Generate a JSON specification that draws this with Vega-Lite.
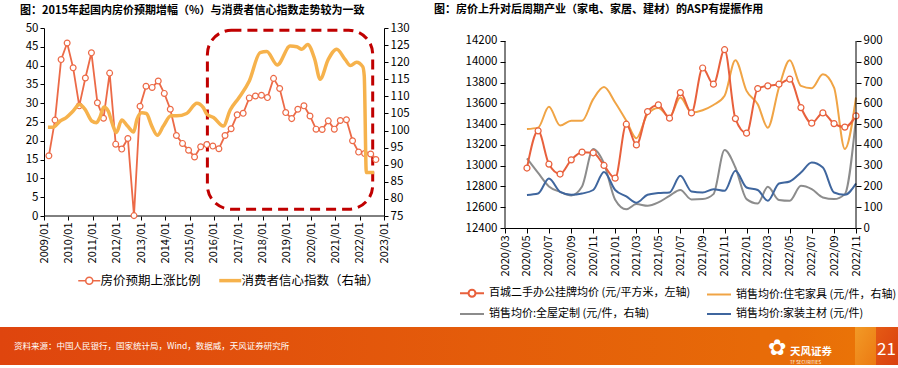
{
  "$schema": "https://vega.github.io/schema/vega-lite/v6.json",
  "background": "white",
  "padding": {"left": 0, "top": 4, "right": 0, "bottom": 0},
  "config": {
    "font": "Noto Sans CJK SC",
    "view": {"stroke": null},
    "axis": {"labelFont": "Noto Sans CJK SC", "labelFontSize": 11.5, "labelColor": "#000000", "domainColor": "#000000", "tickColor": "#000000", "tickSize": 4, "grid": false, "labelPadding": 2, "domainWidth": 1, "tickWidth": 1, "labelOverlap": false},
    "title": {"font": "Noto Sans CJK SC", "fontWeight": "bold", "fontSize": 11, "color": "#000000", "anchor": "start", "frame": "group"},
    "legend": {"labelFont": "Noto Sans CJK SC", "labelColor": "#000000", "padding": 0}
  },
  "datasets": {
    "house": [
      {"date": "2009-03-15", "v": 16.0}, {"date": "2009-06-15", "v": 25.5}, {"date": "2009-09-15", "v": 41.6}, {"date": "2009-12-15", "v": 46.0},
      {"date": "2010-03-15", "v": 39.4}, {"date": "2010-06-15", "v": 29.3}, {"date": "2010-09-15", "v": 36.7}, {"date": "2010-12-15", "v": 43.4},
      {"date": "2011-03-15", "v": 30.1}, {"date": "2011-06-15", "v": 26.0}, {"date": "2011-09-15", "v": 38.0}, {"date": "2011-12-15", "v": 19.1},
      {"date": "2012-03-15", "v": 17.8}, {"date": "2012-06-15", "v": 20.6}, {"date": "2012-09-15", "v": 0.1}, {"date": "2012-12-15", "v": 29.2},
      {"date": "2013-03-15", "v": 34.5}, {"date": "2013-06-15", "v": 34.2}, {"date": "2013-09-15", "v": 35.9}, {"date": "2013-12-15", "v": 32.6},
      {"date": "2014-03-15", "v": 28.4}, {"date": "2014-06-15", "v": 21.4}, {"date": "2014-09-15", "v": 19.3}, {"date": "2014-12-15", "v": 17.5},
      {"date": "2015-03-15", "v": 15.7}, {"date": "2015-06-15", "v": 18.4}, {"date": "2015-09-15", "v": 19.0}, {"date": "2015-12-15", "v": 18.6},
      {"date": "2016-03-15", "v": 17.9}, {"date": "2016-06-15", "v": 21.4}, {"date": "2016-09-15", "v": 23.2}, {"date": "2016-12-15", "v": 26.9},
      {"date": "2017-03-15", "v": 27.3}, {"date": "2017-06-15", "v": 31.4}, {"date": "2017-09-15", "v": 31.9}, {"date": "2017-12-15", "v": 32.1},
      {"date": "2018-03-15", "v": 31.5}, {"date": "2018-06-15", "v": 36.6}, {"date": "2018-09-15", "v": 33.9}, {"date": "2018-12-15", "v": 27.5},
      {"date": "2019-03-15", "v": 25.9}, {"date": "2019-06-15", "v": 28.4}, {"date": "2019-09-15", "v": 29.3}, {"date": "2019-12-15", "v": 26.6},
      {"date": "2020-03-15", "v": 23.1}, {"date": "2020-06-15", "v": 23.0}, {"date": "2020-09-15", "v": 25.3}, {"date": "2020-12-15", "v": 23.1},
      {"date": "2021-03-15", "v": 25.4}, {"date": "2021-06-15", "v": 25.6}, {"date": "2021-09-15", "v": 20.0}, {"date": "2021-12-15", "v": 17.0},
      {"date": "2022-03-15", "v": 16.6}, {"date": "2022-06-15", "v": 16.5}, {"date": "2022-09-01", "v": 15.0}
    ],
    "cci": [
      {"date": "2009-03-01", "v": 101.0}, {"date": "2009-05-15", "v": 101.0}, {"date": "2009-09-01", "v": 102.8}, {"date": "2009-12-01", "v": 103.8},
      {"date": "2010-03-15", "v": 105.7}, {"date": "2010-06-15", "v": 107.6}, {"date": "2010-09-10", "v": 106.2}, {"date": "2010-12-20", "v": 102.8},
      {"date": "2011-03-01", "v": 102.3}, {"date": "2011-04-20", "v": 103.8}, {"date": "2011-06-20", "v": 106.9}, {"date": "2011-08-25", "v": 105.7},
      {"date": "2011-10-20", "v": 102.3}, {"date": "2011-12-25", "v": 99.4}, {"date": "2012-03-15", "v": 103.1}, {"date": "2012-06-10", "v": 101.3},
      {"date": "2012-09-10", "v": 99.6}, {"date": "2012-10-30", "v": 103.3}, {"date": "2013-01-10", "v": 105.2}, {"date": "2013-03-20", "v": 105.0},
      {"date": "2013-06-10", "v": 101.3}, {"date": "2013-09-01", "v": 98.6}, {"date": "2013-12-01", "v": 101.3}, {"date": "2014-03-25", "v": 104.3},
      {"date": "2014-06-20", "v": 104.3}, {"date": "2014-11-15", "v": 105.0}, {"date": "2015-04-20", "v": 108.0}, {"date": "2015-07-25", "v": 106.7},
      {"date": "2015-09-15", "v": 104.8}, {"date": "2015-12-25", "v": 103.8}, {"date": "2016-05-20", "v": 101.3}, {"date": "2016-09-01", "v": 106.0},
      {"date": "2017-01-10", "v": 109.6}, {"date": "2017-06-15", "v": 114.5}, {"date": "2017-11-25", "v": 122.8}, {"date": "2018-03-05", "v": 123.1},
      {"date": "2018-08-10", "v": 119.2}, {"date": "2019-02-20", "v": 124.7}, {"date": "2019-05-30", "v": 124.5}, {"date": "2019-08-15", "v": 123.8},
      {"date": "2019-11-10", "v": 125.2}, {"date": "2020-02-25", "v": 120.8}, {"date": "2020-05-15", "v": 115.0}, {"date": "2020-09-15", "v": 120.8},
      {"date": "2021-01-20", "v": 123.8}, {"date": "2021-05-25", "v": 120.8}, {"date": "2021-08-15", "v": 119.0}, {"date": "2021-11-15", "v": 120.0},
      {"date": "2022-02-15", "v": 118.7}, {"date": "2022-03-10", "v": 116.0}, {"date": "2022-04-10", "v": 87.7}, {"date": "2022-08-05", "v": 87.7}
    ],
    "box": [
      {"start": "2015-09-24", "end": "2022-07-15", "low": 1.8, "high": 49.4}
    ],
    "office": [
      {"date": "2020-05-01", "v": 12977}, {"date": "2020-06-01", "v": 13335}, {"date": "2020-07-01", "v": 13015}, {"date": "2020-08-01", "v": 12919},
      {"date": "2020-09-01", "v": 13056}, {"date": "2020-10-01", "v": 13130}, {"date": "2020-11-01", "v": 13124}, {"date": "2020-12-01", "v": 13002},
      {"date": "2021-01-01", "v": 12880}, {"date": "2021-02-01", "v": 13399}, {"date": "2021-03-01", "v": 13200}, {"date": "2021-04-01", "v": 13521},
      {"date": "2021-05-01", "v": 13585}, {"date": "2021-06-01", "v": 13457}, {"date": "2021-07-01", "v": 13703}, {"date": "2021-08-01", "v": 13508},
      {"date": "2021-09-01", "v": 13940}, {"date": "2021-10-01", "v": 13784}, {"date": "2021-11-01", "v": 14116}, {"date": "2021-12-01", "v": 13453},
      {"date": "2022-01-01", "v": 13313}, {"date": "2022-02-01", "v": 13742}, {"date": "2022-03-01", "v": 13768}, {"date": "2022-04-01", "v": 13784},
      {"date": "2022-05-01", "v": 13832}, {"date": "2022-06-01", "v": 13559}, {"date": "2022-07-01", "v": 13409}, {"date": "2022-08-01", "v": 13508},
      {"date": "2022-09-01", "v": 13405}, {"date": "2022-10-01", "v": 13371}, {"date": "2022-11-01", "v": 13479}
    ],
    "asp": [
      {"date": "2020-05-01", "s": "销售均价:住宅家具 (元/件，右轴)", "v": 476}, {"date": "2020-06-01", "s": "销售均价:住宅家具 (元/件，右轴)", "v": 483},
      {"date": "2020-07-01", "s": "销售均价:住宅家具 (元/件，右轴)", "v": 583}, {"date": "2020-08-01", "s": "销售均价:住宅家具 (元/件，右轴)", "v": 493},
      {"date": "2020-09-01", "s": "销售均价:住宅家具 (元/件，右轴)", "v": 516}, {"date": "2020-10-01", "s": "销售均价:住宅家具 (元/件，右轴)", "v": 516},
      {"date": "2020-11-01", "s": "销售均价:住宅家具 (元/件，右轴)", "v": 620}, {"date": "2020-12-01", "s": "销售均价:住宅家具 (元/件，右轴)", "v": 678},
      {"date": "2021-01-01", "s": "销售均价:住宅家具 (元/件，右轴)", "v": 604}, {"date": "2021-02-01", "s": "销售均价:住宅家具 (元/件，右轴)", "v": 516},
      {"date": "2021-03-01", "s": "销售均价:住宅家具 (元/件，右轴)", "v": 432}, {"date": "2021-04-01", "s": "销售均价:住宅家具 (元/件，右轴)", "v": 548},
      {"date": "2021-05-01", "s": "销售均价:住宅家具 (元/件，右轴)", "v": 577}, {"date": "2021-06-01", "s": "销售均价:住宅家具 (元/件，右轴)", "v": 535},
      {"date": "2021-07-01", "s": "销售均价:住宅家具 (元/件，右轴)", "v": 628}, {"date": "2021-08-01", "s": "销售均价:住宅家具 (元/件，右轴)", "v": 556},
      {"date": "2021-09-01", "s": "销售均价:住宅家具 (元/件，右轴)", "v": 567}, {"date": "2021-10-01", "s": "销售均价:住宅家具 (元/件，右轴)", "v": 592},
      {"date": "2021-11-01", "s": "销售均价:住宅家具 (元/件，右轴)", "v": 636}, {"date": "2021-12-01", "s": "销售均价:住宅家具 (元/件，右轴)", "v": 807},
      {"date": "2022-01-01", "s": "销售均价:住宅家具 (元/件，右轴)", "v": 660}, {"date": "2022-02-01", "s": "销售均价:住宅家具 (元/件，右轴)", "v": 596},
      {"date": "2022-03-01", "s": "销售均价:住宅家具 (元/件，右轴)", "v": 483}, {"date": "2022-04-01", "s": "销售均价:住宅家具 (元/件，右轴)", "v": 676},
      {"date": "2022-05-01", "s": "销售均价:住宅家具 (元/件，右轴)", "v": 807}, {"date": "2022-06-01", "s": "销售均价:住宅家具 (元/件，右轴)", "v": 684},
      {"date": "2022-07-01", "s": "销售均价:住宅家具 (元/件，右轴)", "v": 673}, {"date": "2022-08-01", "s": "销售均价:住宅家具 (元/件，右轴)", "v": 740},
      {"date": "2022-09-01", "s": "销售均价:住宅家具 (元/件，右轴)", "v": 676}, {"date": "2022-10-01", "s": "销售均价:住宅家具 (元/件，右轴)", "v": 380},
      {"date": "2022-11-01", "s": "销售均价:住宅家具 (元/件，右轴)", "v": 628},
      {"date": "2020-05-01", "s": "销售均价:全屋定制 (元/件，右轴)", "v": 335}, {"date": "2020-06-01", "s": "销售均价:全屋定制 (元/件，右轴)", "v": 265},
      {"date": "2020-07-01", "s": "销售均价:全屋定制 (元/件，右轴)", "v": 200}, {"date": "2020-08-01", "s": "销售均价:全屋定制 (元/件，右轴)", "v": 174},
      {"date": "2020-09-01", "s": "销售均价:全屋定制 (元/件，右轴)", "v": 157}, {"date": "2020-10-01", "s": "销售均价:全屋定制 (元/件，右轴)", "v": 200},
      {"date": "2020-11-01", "s": "销售均价:全屋定制 (元/件，右轴)", "v": 380}, {"date": "2020-12-01", "s": "销售均价:全屋定制 (元/件，右轴)", "v": 310},
      {"date": "2021-01-01", "s": "销售均价:全屋定制 (元/件，右轴)", "v": 136}, {"date": "2021-02-01", "s": "销售均价:全屋定制 (元/件，右轴)", "v": 90},
      {"date": "2021-03-01", "s": "销售均价:全屋定制 (元/件，右轴)", "v": 115}, {"date": "2021-04-01", "s": "销售均价:全屋定制 (元/件，右轴)", "v": 107},
      {"date": "2021-05-01", "s": "销售均价:全屋定制 (元/件，右轴)", "v": 123}, {"date": "2021-06-01", "s": "销售均价:全屋定制 (元/件，右轴)", "v": 155},
      {"date": "2021-07-01", "s": "销售均价:全屋定制 (元/件，右轴)", "v": 183}, {"date": "2021-08-01", "s": "销售均价:全屋定制 (元/件，右轴)", "v": 137},
      {"date": "2021-09-01", "s": "销售均价:全屋定制 (元/件，右轴)", "v": 139}, {"date": "2021-10-01", "s": "销售均价:全屋定制 (元/件，右轴)", "v": 163},
      {"date": "2021-11-01", "s": "销售均价:全屋定制 (元/件，右轴)", "v": 375}, {"date": "2021-12-01", "s": "销售均价:全屋定制 (元/件，右轴)", "v": 291},
      {"date": "2022-01-01", "s": "销售均价:全屋定制 (元/件，右轴)", "v": 139}, {"date": "2022-02-01", "s": "销售均价:全屋定制 (元/件，右轴)", "v": 118},
      {"date": "2022-03-01", "s": "销售均价:全屋定制 (元/件，右轴)", "v": 198}, {"date": "2022-04-01", "s": "销售均价:全屋定制 (元/件，右轴)", "v": 135},
      {"date": "2022-05-01", "s": "销售均价:全屋定制 (元/件，右轴)", "v": 131}, {"date": "2022-06-01", "s": "销售均价:全屋定制 (元/件，右轴)", "v": 203},
      {"date": "2022-07-01", "s": "销售均价:全屋定制 (元/件，右轴)", "v": 187}, {"date": "2022-08-01", "s": "销售均价:全屋定制 (元/件，右轴)", "v": 147},
      {"date": "2022-09-01", "s": "销售均价:全屋定制 (元/件，右轴)", "v": 139}, {"date": "2022-10-01", "s": "销售均价:全屋定制 (元/件，右轴)", "v": 163},
      {"date": "2022-11-01", "s": "销售均价:全屋定制 (元/件，右轴)", "v": 530},
      {"date": "2020-05-01", "s": "销售均价:家装主材 (元/件)", "v": 159}, {"date": "2020-06-01", "s": "销售均价:家装主材 (元/件)", "v": 166},
      {"date": "2020-07-01", "s": "销售均价:家装主材 (元/件)", "v": 238}, {"date": "2020-08-01", "s": "销售均价:家装主材 (元/件)", "v": 174},
      {"date": "2020-09-01", "s": "销售均价:家装主材 (元/件)", "v": 160}, {"date": "2020-10-01", "s": "销售均价:家装主材 (元/件)", "v": 166},
      {"date": "2020-11-01", "s": "销售均价:家装主材 (元/件)", "v": 183}, {"date": "2020-12-01", "s": "销售均价:家装主材 (元/件)", "v": 270},
      {"date": "2021-01-01", "s": "销售均价:家装主材 (元/件)", "v": 183}, {"date": "2021-02-01", "s": "销售均价:家装主材 (元/件)", "v": 152},
      {"date": "2021-03-01", "s": "销售均价:家装主材 (元/件)", "v": 122}, {"date": "2021-04-01", "s": "销售均价:家装主材 (元/件)", "v": 160},
      {"date": "2021-05-01", "s": "销售均价:家装主材 (元/件)", "v": 168}, {"date": "2021-06-01", "s": "销售均价:家装主材 (元/件)", "v": 171},
      {"date": "2021-07-01", "s": "销售均价:家装主材 (元/件)", "v": 251}, {"date": "2021-08-01", "s": "销售均价:家装主材 (元/件)", "v": 176},
      {"date": "2021-09-01", "s": "销售均价:家装主材 (元/件)", "v": 171}, {"date": "2021-10-01", "s": "销售均价:家装主材 (元/件)", "v": 187},
      {"date": "2021-11-01", "s": "销售均价:家装主材 (元/件)", "v": 179}, {"date": "2021-12-01", "s": "销售均价:家装主材 (元/件)", "v": 275},
      {"date": "2022-01-01", "s": "销售均价:家装主材 (元/件)", "v": 195}, {"date": "2022-02-01", "s": "销售均价:家装主材 (元/件)", "v": 183},
      {"date": "2022-03-01", "s": "销售均价:家装主材 (元/件)", "v": 131}, {"date": "2022-04-01", "s": "销售均价:家装主材 (元/件)", "v": 214},
      {"date": "2022-05-01", "s": "销售均价:家装主材 (元/件)", "v": 224}, {"date": "2022-06-01", "s": "销售均价:家装主材 (元/件)", "v": 267},
      {"date": "2022-07-01", "s": "销售均价:家装主材 (元/件)", "v": 315}, {"date": "2022-08-01", "s": "销售均价:家装主材 (元/件)", "v": 291},
      {"date": "2022-09-01", "s": "销售均价:家装主材 (元/件)", "v": 171}, {"date": "2022-10-01", "s": "销售均价:家装主材 (元/件)", "v": 160},
      {"date": "2022-11-01", "s": "销售均价:家装主材 (元/件)", "v": 214}
    ]
  },
  "spacing": 8,
  "vconcat": [
    {
      "spacing": 24,
      "resolve": {"scale": {"color": "independent"}, "legend": {"color": "independent"}},
      "hconcat": [
        {
          "width": 384,
          "height": 188,
          "title": {"text": "图：2015年起国内房价预期增幅（%）与消费者信心指数走势较为一致", "dx": 20, "offset": 6},
          "layer": [
            {
              "data": {"values": [{}]},
              "mark": {"type": "rule", "color": "#000000", "strokeWidth": 1},
              "encoding": {
                "x": {"datum": {"year": 2009, "month": 1, "date": 1, "utc": true}, "type": "temporal",
                  "scale": {"type": "utc", "domain": [{"year": 2007, "month": 3, "date": 11, "utc": true}, {"year": 2023, "month": 1, "date": 1, "utc": true}]},
                  "axis": {"title": null, "format": "%Y/%m", "domain": false, "labelAngle": 270, "labelFontSize": 11, "labelFlush": false, "labelBound": false, "labelOverlap": false,
                    "values": [
                      {"year": 2009, "month": 1, "date": 1, "utc": true}, {"year": 2010, "month": 1, "date": 1, "utc": true}, {"year": 2011, "month": 1, "date": 1, "utc": true},
                      {"year": 2012, "month": 1, "date": 1, "utc": true}, {"year": 2013, "month": 1, "date": 1, "utc": true}, {"year": 2014, "month": 1, "date": 1, "utc": true},
                      {"year": 2015, "month": 1, "date": 1, "utc": true}, {"year": 2016, "month": 1, "date": 1, "utc": true}, {"year": 2017, "month": 1, "date": 1, "utc": true},
                      {"year": 2018, "month": 1, "date": 1, "utc": true}, {"year": 2019, "month": 1, "date": 1, "utc": true}, {"year": 2020, "month": 1, "date": 1, "utc": true},
                      {"year": 2021, "month": 1, "date": 1, "utc": true}, {"year": 2022, "month": 1, "date": 1, "utc": true}, {"year": 2023, "month": 1, "date": 1, "utc": true}]}},
                "x2": {"datum": {"year": 2023, "month": 1, "date": 1, "utc": true}},
                "y": {"datum": 0, "type": "quantitative", "scale": {"domain": [0, 50]}, "axis": null}
              }
            },
            {
              "data": {"name": "box"},
              "mark": {"type": "rect", "filled": false, "stroke": "#C00000", "strokeWidth": 3, "strokeDash": [10, 6], "cornerRadius": 24},
              "encoding": {
                "x": {"field": "start", "type": "temporal", "axis": null},
                "x2": {"field": "end"},
                "y": {"field": "low", "type": "quantitative", "scale": {"domain": [0, 50]}, "axis": null},
                "y2": {"field": "high"}
              }
            },
            {
              "data": {"name": "house"},
              "mark": {"type": "line", "strokeWidth": 1.8},
              "encoding": {
                "x": {"field": "date", "type": "temporal", "axis": null},
                "y": {"field": "v", "type": "quantitative", "scale": {"domain": [0, 50]},
                  "axis": {"orient": "left", "offset": -44, "title": null, "format": "d", "values": [0, 5, 10, 15, 20, 25, 30, 35, 40, 45, 50], "labelOverlap": false}},
                "color": {"datum": "房价预期上涨比例", "type": "nominal",
                  "scale": {"domain": ["房价预期上涨比例", "消费者信心指数（右轴）"], "range": ["#EC6A47", "#F6B24C"]},
                  "legend": {"orient": "none", "legendX": 83, "legendY": 246, "direction": "horizontal", "title": null, "symbolSize": 484, "labelFontSize": 12.5, "columnPadding": 11, "labelOffset": 5,
                    "encode": {"symbols": {"update": {
                      "shape": {"signal": "datum.value === '房价预期上涨比例' ? 'M-1,0L-0.32,0M0.32,0L1,0M-0.32,0A0.32,0.32,0,1,0,0.32,0A0.32,0.32,0,1,0,-0.32,0Z' : 'stroke'"},
                      "strokeWidth": {"signal": "datum.value === '房价预期上涨比例' ? 1.6 : 3.5"},
                      "fill": {"value": "#ffffff"}}}}}}
              }
            },
            {
              "data": {"name": "house"},
              "mark": {"type": "point", "filled": true, "fill": "#ffffff", "stroke": "#EC6A47", "strokeWidth": 1.2, "size": 34, "opacity": 1},
              "encoding": {
                "x": {"field": "date", "type": "temporal", "axis": null},
                "y": {"field": "v", "type": "quantitative", "scale": {"domain": [0, 50]}, "axis": null}
              }
            },
            {
              "data": {"name": "cci"},
              "mark": {"type": "line", "strokeWidth": 3.5, "interpolate": "monotone"},
              "encoding": {
                "x": {"field": "date", "type": "temporal", "axis": null},
                "y": {"field": "v", "type": "quantitative", "scale": {"domain": [75, 130]},
                  "axis": {"orient": "right", "title": null, "format": "d", "labelOverlap": false, "values": [75, 80, 85, 90, 95, 100, 105, 110, 115, 120, 125, 130]}},
                "color": {"datum": "消费者信心指数（右轴）", "type": "nominal"}
              }
            }
          ],
          "resolve": {"scale": {"y": "independent"}, "axis": {"x": "independent"}}
        },
        {
          "width": 351,
          "height": 200,
          "title": {"text": "图：房价上升对后周期产业（家电、家居、建材）的ASP有提振作用", "dx": -71, "offset": 13},
          "layer": [
            {
              "data": {"name": "asp"},
              "mark": {"type": "line", "strokeWidth": 2, "interpolate": "monotone"},
              "encoding": {
                "x": {"field": "date", "type": "temporal", "scale": {"type": "utc", "domain": [{"year": 2020, "month": 3, "date": 1, "utc": true}, {"year": 2022, "month": 11, "date": 1, "utc": true}]},
                  "axis": {"title": null, "format": "%Y/%m", "tickCount": {"interval": "month", "step": 2}, "labelAngle": 270, "labelFontSize": 11, "labelFlush": false, "labelBound": false, "labelOverlap": false, "tickSize": 5}},
                "y": {"field": "v", "type": "quantitative", "scale": {"domain": [0, 962.5]},
                  "axis": {"orient": "right", "title": null, "format": "d", "domain": false, "labelOverlap": false, "values": [0, 100, 200, 300, 400, 500, 600, 700, 800, 900], "tickSize": 5}},
                "color": {"field": "s", "type": "nominal",
                  "scale": {"domain": ["百城二手办公挂牌均价 (元/平方米，左轴)", "销售均价:全屋定制 (元/件，右轴)", "销售均价:住宅家具 (元/件，右轴)", "销售均价:家装主材 (元/件)"], "range": ["#E8603C", "#8C8C8C", "#F0A445", "#3F669E"]},
                  "legend": {"orient": "none", "legendX": -46, "legendY": 252, "columns": 2, "title": null, "symbolSize": 576, "labelFontSize": 11, "columnPadding": 12, "rowPadding": -5, "labelOffset": 4, "labelLimit": 400,
                    "encode": {"symbols": {"update": {
                      "shape": {"signal": "datum.value === '百城二手办公挂牌均价 (元/平方米，左轴)' ? 'M-1,0L-0.29,0M0.29,0L1,0M-0.29,0A0.29,0.29,0,1,0,0.29,0A0.29,0.29,0,1,0,-0.29,0Z' : 'stroke'"},
                      "strokeWidth": {"value": 2},
                      "fill": {"value": "#ffffff"}}}}}},
                "detail": {"field": "s"}
              }
            },
            {
              "data": {"name": "office"},
              "mark": {"type": "line", "strokeWidth": 2, "interpolate": "monotone"},
              "encoding": {
                "x": {"field": "date", "type": "temporal"},
                "y": {"field": "v", "type": "quantitative", "scale": {"domain": [12400, 14325]},
                  "axis": {"orient": "left", "title": null, "format": "d", "domain": false, "labelOverlap": false, "values": [12400, 12600, 12800, 13000, 13200, 13400, 13600, 13800, 14000, 14200], "tickSize": 5, "labelPadding": 3}},
                "color": {"datum": "百城二手办公挂牌均价 (元/平方米，左轴)", "type": "nominal"}
              }
            },
            {
              "data": {"name": "office"},
              "mark": {"type": "point", "filled": true, "fill": "#ffffff", "stroke": "#E8603C", "strokeWidth": 1.2, "size": 36, "opacity": 1},
              "encoding": {
                "x": {"field": "date", "type": "temporal"},
                "y": {"field": "v", "type": "quantitative", "scale": {"domain": [12400, 14325]}, "axis": null}
              }
            },
            {
              "data": {"values": [{}]},
              "mark": {"type": "rule", "color": "#000000", "strokeWidth": 1},
              "encoding": {
                "x": {"datum": {"year": 2020, "month": 3, "date": 1, "utc": true}, "type": "temporal"},
                "y": {"datum": 12400, "type": "quantitative", "scale": {"domain": [12400, 14325]}, "axis": null},
                "y2": {"datum": 14200}
              }
            },
            {
              "data": {"values": [{}]},
              "mark": {"type": "rule", "color": "#000000", "strokeWidth": 1},
              "encoding": {
                "x": {"datum": {"year": 2022, "month": 11, "date": 1, "utc": true}, "type": "temporal"},
                "y": {"datum": 0, "type": "quantitative", "scale": {"domain": [0, 962.5]}, "axis": null},
                "y2": {"datum": 900}
              }
            }
          ],
          "resolve": {"scale": {"y": "independent"}}
        }
      ]
    },
    {
      "spacing": 0,
      "hconcat": [
        {
          "width": 760, "height": 38,
          "data": {"values": [{}]},
          "title": {"text": "资料来源：中国人民银行，国家统计局，Wind，数据威，天风证券研究所", "color": "#ffffff", "fontSize": 8.5, "fontWeight": "normal", "offset": -27, "dx": 14, "baseline": "middle"},
          "mark": {"type": "rect", "color": {"gradient": "linear", "x1": 0, "y1": 0, "x2": 1, "y2": 0, "stops": [{"offset": 0, "color": "#DF450E"}, {"offset": 1, "color": "#E76A08"}]}},
          "encoding": {}
        },
        {
          "width": 28, "height": 38,
          "data": {"values": [{}]},
          "title": {"text": "✿", "font": "DejaVu Sans", "color": "#ffffff", "fontSize": 22, "fontWeight": "normal", "offset": -43, "dx": 8, "baseline": "middle"},
          "mark": {"type": "rect", "color": "#E86C08"},
          "encoding": {}
        },
        {
          "width": 67, "height": 38,
          "data": {"values": [{}]},
          "title": {"text": "天风证券", "subtitle": "TF SECURITIES", "color": "#ffffff", "subtitleColor": "#ffffff", "fontSize": 10.5, "subtitleFontSize": 4.5, "subtitlePadding": 2, "fontWeight": "bold", "offset": -37, "dx": 2},
          "mark": {"type": "rect", "color": {"gradient": "linear", "x1": 0, "y1": 0, "x2": 1, "y2": 0, "stops": [{"offset": 0, "color": "#E86C08"}, {"offset": 1, "color": "#EA7307"}]}},
          "encoding": {}
        },
        {
          "width": 21, "height": 38,
          "data": {"values": [{}]},
          "mark": {"type": "rect", "color": {"gradient": "linear", "x1": 0, "y1": 0, "x2": 1, "y2": 1, "stops": [{"offset": 0, "color": "#F29A26"}, {"offset": 1, "color": "#EC7A12"}]}},
          "encoding": {}
        },
        {
          "width": 22, "height": 38,
          "data": {"values": [{}]},
          "title": {"text": "21", "color": "#ffffff", "fontSize": 17, "fontWeight": "normal", "offset": -40, "dx": 1, "baseline": "middle"},
          "mark": {"type": "rect", "color": {"gradient": "linear", "x1": 0, "y1": 0, "x2": 1, "y2": 1, "stops": [{"offset": 0, "color": "#E55A14"}, {"offset": 1, "color": "#D9400F"}]}},
          "encoding": {}
        }
      ]
    }
  ]
}
